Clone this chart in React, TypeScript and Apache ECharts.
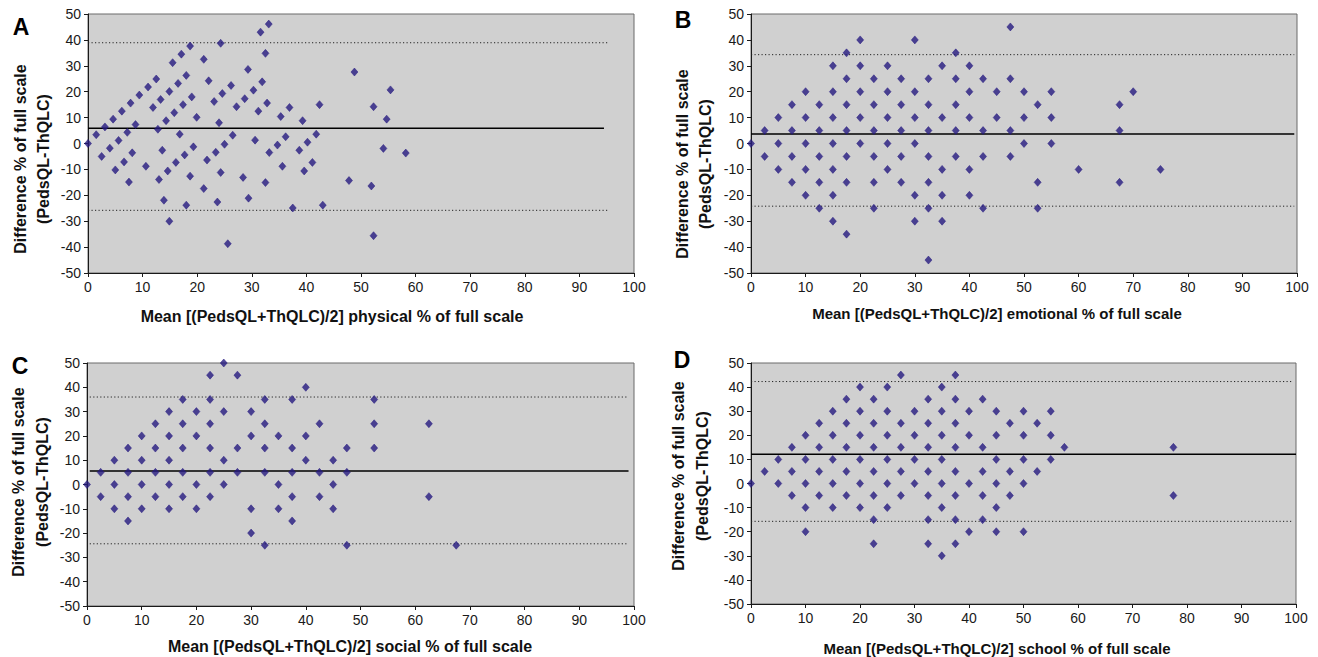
import React, { useEffect, useRef } from "react";
import * as echarts from "echarts";

// ---------- DATA ----------
const xTicks = [0, 10, 20, 30, 40, 50, 60, 70, 80, 90, 100];
const yTicks = [-50, -40, -30, -20, -10, 0, 10, 20, 30, 40, 50];

const physicalPoints: [number, number][] = [
  [0, 0], [1.5, 3.4], [2.5, -5], [3.1, 6.4], [4.0, -1.8], [4.6, 9.4], [5.0, -10.2], [5.6, 1.2],
  [6.2, 12.5], [6.6, -7.1], [7.2, 4.3], [7.5, -14.9], [7.8, 15.6], [8.1, -3.6], [8.7, 7.3], [9.4, 18.7],
  [10.6, -8.8], [11.0, 21.8], [11.9, 13.9], [12.5, 24.9], [12.8, 5.5], [13.0, -13.9], [13.3, 17.0],
  [13.6, -2.6], [13.9, -21.9], [14.3, 8.8], [14.6, -10.6], [14.9, 20.1], [14.9, -30.0], [15.5, 31.2],
  [15.8, 11.9], [16.1, -7.3], [16.5, 23.2], [16.8, 3.6], [17.1, 34.5], [17.4, 15.0], [17.7, -4.4],
  [18.0, 26.3], [18.0, -23.8], [18.7, 37.6], [18.7, -12.6], [19.0, 18.0], [19.3, -1.3], [19.9, 10.1],
  [21.2, 32.5], [21.2, -17.4], [21.8, -6.4], [22.1, 24.2], [23.1, 16.2], [23.4, -3.4], [23.7, -22.6],
  [24.0, 8.0], [24.3, 38.7], [24.3, -11.2], [24.6, 19.3], [25.0, -0.3], [25.6, -38.7], [26.2, 22.4],
  [26.5, 3.2], [27.2, 14.2], [28.4, -13.1], [28.7, 17.3], [29.3, 28.6], [29.4, -21.1], [30.3, 20.6],
  [30.6, 1.3], [31.2, 12.5], [31.6, 43.0], [31.9, 23.8], [32.5, 34.8], [32.5, -15.1], [32.8, 15.6],
  [33.1, 46.1], [33.2, -3.5], [34.7, -0.6], [35.3, 10.4], [35.6, -8.8], [36.2, 2.6], [36.9, 13.9],
  [37.5, -24.9], [38.7, -2.6], [39.3, 8.8], [39.6, -10.6], [40.2, 0.5], [41.1, -7.3], [41.8, 3.6],
  [42.4, 15.0], [43.0, -23.8], [47.8, -14.3], [48.8, 27.6], [51.9, -16.4], [52.3, 14.2], [52.3, -35.6],
  [54.1, -1.9], [54.7, 9.4], [55.4, 20.7], [58.2, -3.7],
];
const physicalMean = 5.9;
const physicalUpper = 38.9;
const physicalLower = -25.8;

const emotionalPoints: [number, number][] = [
  [0, 0], [2.5, 5], [2.5, -5], [5, 10], [5, 0], [5, -10],
  [7.5, 15], [7.5, 5], [7.5, -5], [7.5, -15],
  [10, 20], [10, 10], [10, 0], [10, -10], [10, -20],
  [12.5, 15], [12.5, 5], [12.5, -5], [12.5, -15], [12.5, -25],
  [15, 30], [15, 20], [15, 10], [15, 0], [15, -10], [15, -20], [15, -30],
  [17.5, 35], [17.5, 25], [17.5, 15], [17.5, 5], [17.5, -5], [17.5, -15], [17.5, -35],
  [20, 40], [20, 30], [20, 20], [20, 10], [20, 0],
  [22.5, 25], [22.5, 15], [22.5, 5], [22.5, -5], [22.5, -15], [22.5, -25],
  [25, 30], [25, 20], [25, 10], [25, 0], [25, -10],
  [27.5, 25], [27.5, 15], [27.5, 5], [27.5, -5], [27.5, -15],
  [30, 40], [30, 20], [30, 10], [30, 0], [30, -20], [30, -30],
  [32.5, 25], [32.5, 15], [32.5, 5], [32.5, -5], [32.5, -15], [32.5, -25], [32.5, -45],
  [35, 30], [35, 10], [35, -10], [35, -20], [35, -30],
  [37.5, 35], [37.5, 25], [37.5, 15], [37.5, 5], [37.5, -5],
  [40, 30], [40, 20], [40, 10], [40, -10], [40, -20],
  [42.5, 25], [42.5, 5], [42.5, -5], [42.5, -25],
  [45, 20], [45, 10],
  [47.5, 45], [47.5, 25], [47.5, 5], [47.5, -5],
  [50, 20], [50, 10], [50, 0],
  [52.5, 15], [52.5, -15], [52.5, -25],
  [55, 20], [55, 10], [55, 0],
  [60, -10], [67.5, 15], [67.5, 5], [67.5, -15], [70, 20], [75, -10],
];
const emotionalMean = 3.7;
const emotionalUpper = 34.3;
const emotionalLower = -24.2;

const socialPoints: [number, number][] = [
  [0, 0], [2.5, 5], [2.5, -5], [5, 10], [5, 0], [5, -10],
  [7.5, 15], [7.5, 5], [7.5, -5], [7.5, -15],
  [10, 20], [10, 10], [10, 0], [10, -10],
  [12.5, 25], [12.5, 15], [12.5, 5], [12.5, -5],
  [15, 30], [15, 20], [15, 10], [15, 0], [15, -10],
  [17.5, 35], [17.5, 25], [17.5, 15], [17.5, 5], [17.5, -5],
  [20, 30], [20, 20], [20, 0], [20, -10],
  [22.5, 45], [22.5, 35], [22.5, 25], [22.5, 15], [22.5, 5], [22.5, -5],
  [25, 50], [25, 30], [25, 10], [25, 0],
  [27.5, 45], [27.5, 15], [27.5, 5],
  [30, 30], [30, 20], [30, -10], [30, -20],
  [32.5, 35], [32.5, 25], [32.5, 15], [32.5, 5], [32.5, -25],
  [35, 20], [35, 0], [35, -10],
  [37.5, 35], [37.5, 15], [37.5, 5], [37.5, -5], [37.5, -15],
  [40, 40], [40, 20], [40, 10],
  [42.5, 25], [42.5, 5], [42.5, -5],
  [45, 10], [45, 0], [45, -10],
  [47.5, 15], [47.5, 5], [47.5, -25],
  [52.5, 35], [52.5, 25], [52.5, 15],
  [62.5, 25], [62.5, -5], [67.5, -25],
];
const socialMean = 5.6;
const socialUpper = 36.0;
const socialLower = -24.4;

const schoolPoints: [number, number][] = [
  [0, 0], [2.5, 5], [5, 10], [5, 0],
  [7.5, 15], [7.5, 5], [7.5, -5],
  [10, 20], [10, 10], [10, 0], [10, -10], [10, -20],
  [12.5, 25], [12.5, 15], [12.5, 5], [12.5, -5],
  [15, 30], [15, 20], [15, 10], [15, 0], [15, -10],
  [17.5, 35], [17.5, 25], [17.5, 15], [17.5, 5], [17.5, -5],
  [20, 40], [20, 30], [20, 20], [20, 10], [20, 0], [20, -10],
  [22.5, 35], [22.5, 25], [22.5, 15], [22.5, 5], [22.5, -5], [22.5, -15], [22.5, -25],
  [25, 40], [25, 30], [25, 20], [25, 10], [25, 0], [25, -10],
  [27.5, 45], [27.5, 25], [27.5, 15], [27.5, 5], [27.5, -5],
  [30, 30], [30, 20], [30, 10], [30, 0],
  [32.5, 35], [32.5, 25], [32.5, 15], [32.5, 5], [32.5, -5], [32.5, -15], [32.5, -25],
  [35, 40], [35, 30], [35, 20], [35, 10], [35, 0], [35, -10], [35, -30],
  [37.5, 45], [37.5, 35], [37.5, 25], [37.5, 15], [37.5, 5], [37.5, -5], [37.5, -15], [37.5, -25],
  [40, 30], [40, 20], [40, 0], [40, -20],
  [42.5, 35], [42.5, 15], [42.5, 5], [42.5, -5], [42.5, -15],
  [45, 30], [45, 20], [45, 10], [45, 0], [45, -10], [45, -20],
  [47.5, 25], [47.5, 5], [47.5, -5],
  [50, 30], [50, 20], [50, 10], [50, 0], [50, -20],
  [52.5, 25], [52.5, 5],
  [55, 30], [55, 20], [55, 10],
  [57.5, 15], [77.5, 15], [77.5, -5],
];
const schoolMean = 12.1;
const schoolUpper = 42.3;
const schoolLower = -15.7;

const panelLetters = ["A", "B", "C", "D"];
const xTitles = [
  "Mean [(PedsQL+ThQLC)/2] physical % of full scale",
  "Mean [(PedsQL+ThQLC)/2] emotional % of full scale",
  "Mean [(PedsQL+ThQLC)/2] social % of full scale",
  "Mean [(PedsQL+ThQLC)/2] school % of full scale",
];
const yTitleLine1 = "Difference % of full scale";
const yTitleLine2 = "(PedsQL-ThQLC)";

// ---------- LAYOUT / STYLE ----------
const FONT = '"Liberation Sans", Arial, Helvetica, sans-serif';
const DOT = "#261a80";

const panels = [
  {
    points: physicalPoints, mean: physicalMean, upper: physicalUpper, lower: physicalLower,
    meanRange: [0, 94.5], limitRange: [0, 95.5],
    grid: { left: 88, top: 14, width: 546, height: 259 },
    letter: [21, 27], yt1: [20, 159], yt2: [43, 159], xt: [332, 316], xtSize: 16,
  },
  {
    points: emotionalPoints, mean: emotionalMean, upper: emotionalUpper, lower: emotionalLower,
    meanRange: [0, 99.5], limitRange: [0, 99.5],
    grid: { left: 751, top: 14, width: 546, height: 259 },
    letter: [683, 20], yt1: [682, 164], yt2: [705, 164], xt: [997, 313], xtSize: 15,
  },
  {
    points: socialPoints, mean: socialMean, upper: socialUpper, lower: socialLower,
    meanRange: [0.5, 99], limitRange: [0.5, 99],
    grid: { left: 87, top: 363, width: 547, height: 243 },
    letter: [20, 366], yt1: [18, 482], yt2: [42, 482], xt: [350, 646], xtSize: 16,
  },
  {
    points: schoolPoints, mean: schoolMean, upper: schoolUpper, lower: schoolLower,
    meanRange: [0, 100], limitRange: [0, 99.5],
    grid: { left: 751, top: 363, width: 545, height: 241 },
    letter: [682, 360], yt1: [678, 476], yt2: [702, 476], xt: [997, 648], xtSize: 15,
  },
];

export default function App() {
  const ref = useRef<HTMLDivElement>(null);

  useEffect(() => {
    if (!ref.current) return;
    const chart = echarts.init(ref.current, null, { renderer: "svg" });

    const grid = panels.map((p) => ({
      ...p.grid,
      show: true,
      backgroundColor: "#d0d0d0",
      borderColor: "#6a6a6a",
      borderWidth: 1,
      containLabel: false,
    }));

    const xAxis = panels.map((_, i) => ({
      type: "value",
      gridIndex: i,
      min: xTicks[0],
      max: xTicks[xTicks.length - 1],
      interval: xTicks[1] - xTicks[0],
      axisLine: { show: true, onZero: false, lineStyle: { color: "#1a1a1a", width: 1 } },
      axisTick: { show: true, length: 4, lineStyle: { color: "#1a1a1a" } },
      axisLabel: { color: "#1a1a1a", fontSize: 14, fontFamily: FONT, margin: 7 },
      splitLine: { show: false },
    }));

    const yAxis = panels.map((_, i) => ({
      type: "value",
      gridIndex: i,
      min: yTicks[0],
      max: yTicks[yTicks.length - 1],
      interval: yTicks[1] - yTicks[0],
      axisLine: { show: true, onZero: false, lineStyle: { color: "#1a1a1a", width: 1 } },
      axisTick: { show: true, length: 4, lineStyle: { color: "#1a1a1a" } },
      axisLabel: { color: "#1a1a1a", fontSize: 14, fontFamily: FONT, margin: 7 },
      splitLine: { show: false },
    }));

    const series: any[] = [];
    panels.forEach((p, i) => {
      series.push({
        type: "line",
        xAxisIndex: i,
        yAxisIndex: i,
        data: [[p.meanRange[0], p.mean], [p.meanRange[1], p.mean]],
        symbol: "none",
        lineStyle: { color: "#000", width: 1.5 },
        silent: true,
        z: 2,
      });
      [p.upper, p.lower].forEach((v) => {
        series.push({
          type: "line",
          xAxisIndex: i,
          yAxisIndex: i,
          data: [[p.limitRange[0], v], [p.limitRange[1], v]],
          symbol: "none",
          lineStyle: { color: "#222", width: 1, type: [1.2, 2.3] },
          silent: true,
          z: 2,
        });
      });
      series.push({
        type: "scatter",
        xAxisIndex: i,
        yAxisIndex: i,
        data: p.points,
        symbol: "diamond",
        symbolSize: [7, 8],
        itemStyle: { color: DOT, borderColor: DOT, borderWidth: 0.6 },
        z: 3,
      });
    });

    const graphic: any[] = [];
    panels.forEach((p, i) => {
      graphic.push({
        type: "text",
        x: p.letter[0],
        y: p.letter[1],
        style: {
          text: panelLetters[i],
          fontSize: 23,
          fontWeight: "bold",
          fontFamily: FONT,
          fill: "#000",
          textAlign: "center",
          textVerticalAlign: "middle",
        },
      });
      graphic.push({
        type: "text",
        x: p.yt1[0],
        y: p.yt1[1],
        rotation: Math.PI / 2,
        style: {
          text: yTitleLine1,
          fontSize: 16,
          fontWeight: "bold",
          fontFamily: FONT,
          fill: "#111",
          textAlign: "center",
          textVerticalAlign: "middle",
        },
      });
      graphic.push({
        type: "text",
        x: p.yt2[0],
        y: p.yt2[1],
        rotation: Math.PI / 2,
        style: {
          text: yTitleLine2,
          fontSize: 16,
          fontWeight: "bold",
          fontFamily: FONT,
          fill: "#111",
          textAlign: "center",
          textVerticalAlign: "middle",
        },
      });
      graphic.push({
        type: "text",
        x: p.xt[0],
        y: p.xt[1],
        style: {
          text: xTitles[i],
          fontSize: p.xtSize,
          fontWeight: "bold",
          fontFamily: FONT,
          fill: "#111",
          textAlign: "center",
          textVerticalAlign: "middle",
        },
      });
    });

    chart.setOption({
      animation: false,
      backgroundColor: "#ffffff",
      grid,
      xAxis,
      yAxis,
      series,
      graphic,
    });

    return () => chart.dispose();
  }, []);

  return (
    <div
      ref={ref}
      style={{ position: "absolute", left: 0, top: 0, width: 1318, height: 657 }}
    />
  );
}
